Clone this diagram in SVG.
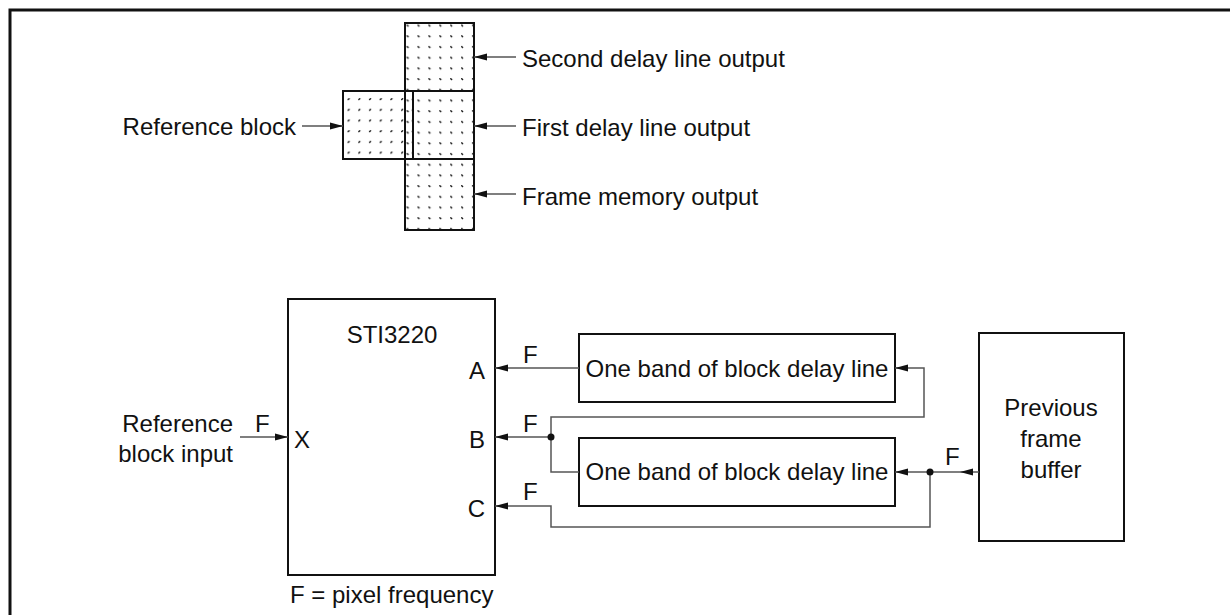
<svg xmlns="http://www.w3.org/2000/svg" width="1230" height="615" viewBox="0 0 1230 615">
<style>
text{font-family:"Liberation Sans",Arial,sans-serif;font-size:24px;fill:#111}
.box{fill:#fff;stroke:#111;stroke-width:2}
.ln{fill:none;stroke:#555;stroke-width:1.5}
.e{text-anchor:end}
.m{text-anchor:middle}
</style>
<defs>
<marker id="ah" viewBox="0 0 13 8" refX="13" refY="4" markerWidth="13" markerHeight="8" markerUnits="userSpaceOnUse" orient="auto">
<path d="M0,0.5 L13,4 L0,7.5 z" fill="#111"/>
</marker>
<pattern id="dotsA" patternUnits="userSpaceOnUse" x="406.5" y="24.5" width="10.9" height="10.7">
<path d="M0.3,0.3 L2,2" stroke="#111" stroke-width="1.4"/>
</pattern>
<pattern id="dotsB" patternUnits="userSpaceOnUse" x="347.5" y="98" width="10.7" height="10.7">
<path d="M0.3,2 L2,0.3" stroke="#111" stroke-width="1.4"/>
</pattern>
</defs>
<rect x="10" y="10" width="1240" height="620" fill="none" stroke="#111" stroke-width="3"/>

<g id="reference-block">
<rect x="343" y="91" width="70" height="68" fill="url(#dotsB)" stroke="#111" stroke-width="2"/>
</g>
<g id="second-delay-output">
<rect x="405" y="23" width="69" height="68" fill="url(#dotsA)" stroke="#111" stroke-width="2"/>
</g>
<g id="first-delay-output">
<rect x="405" y="91" width="69" height="68" fill="url(#dotsA)" stroke="#111" stroke-width="2"/>
</g>
<g id="frame-memory-output">
<rect x="405" y="159" width="69" height="71" fill="url(#dotsA)" stroke="#111" stroke-width="2"/>
</g>
<line x1="413" y1="91" x2="413" y2="159" stroke="#111" stroke-width="1.5"/>

<g id="top-labels">
<text x="296" y="135" class="e">Reference block</text>
<text x="522" y="67">Second delay line output</text>
<text x="522" y="136">First delay line output</text>
<text x="522" y="205">Frame memory output</text>
</g>

<g id="sti3220">
<rect class="box" x="288" y="299" width="207" height="276"/>
<text x="392" y="343" class="m">STI3220</text>
<text x="485" y="379" class="e">A</text>
<text x="485" y="448" class="e">B</text>
<text x="485" y="517" class="e">C</text>
<text x="294" y="448">X</text>
</g>

<g id="delay-line-1">
<rect class="box" x="579" y="334" width="316" height="68"/>
<text x="737" y="377" class="m">One band of block delay line</text>
</g>
<g id="delay-line-2">
<rect class="box" x="579" y="438" width="316" height="68"/>
<text x="737" y="480" class="m">One band of block delay line</text>
</g>
<g id="previous-frame-buffer">
<rect class="box" x="979" y="333" width="145" height="208"/>
<text x="1051" y="416" class="m">Previous</text>
<text x="1051" y="447" class="m">frame</text>
<text x="1051" y="478" class="m">buffer</text>
</g>

<g id="labels">
<text x="233" y="432" class="e">Reference</text>
<text x="233" y="462" class="e">block input</text>
<text x="255" y="432">F</text>
<text x="523" y="363">F</text>
<text x="523" y="432">F</text>
<text x="523" y="500">F</text>
<text x="945" y="465">F</text>
<text x="290" y="603">F = pixel frequency</text>
</g>

<g id="connectors">
<line class="ln" x1="302" y1="126" x2="343" y2="126" marker-end="url(#ah)"/>
<line class="ln" x1="516" y1="57" x2="474" y2="57" marker-end="url(#ah)"/>
<line class="ln" x1="516" y1="126" x2="474" y2="126" marker-end="url(#ah)"/>
<line class="ln" x1="516" y1="194" x2="474" y2="194" marker-end="url(#ah)"/>
<line class="ln" x1="240" y1="437" x2="288" y2="437" marker-end="url(#ah)"/>
<line class="ln" x1="579" y1="368" x2="495" y2="368" marker-end="url(#ah)"/>
<path class="ln" d="M579,472 L551,472 L551,417 L924,417 L924,368 L895,368" marker-end="url(#ah)"/>
<line class="ln" x1="551" y1="437" x2="495" y2="437" marker-end="url(#ah)"/>
<line class="ln" x1="979" y1="472" x2="960" y2="472" marker-end="url(#ah)"/>
<line class="ln" x1="960" y1="472" x2="895" y2="472" marker-end="url(#ah)"/>
<path class="ln" d="M930,472 L930,527 L551,527 L551,506 L495,506" marker-end="url(#ah)"/>
<circle cx="551" cy="437" r="3.5" fill="#111"/>
<circle cx="930" cy="472" r="3.5" fill="#111"/>
</g>
</svg>
